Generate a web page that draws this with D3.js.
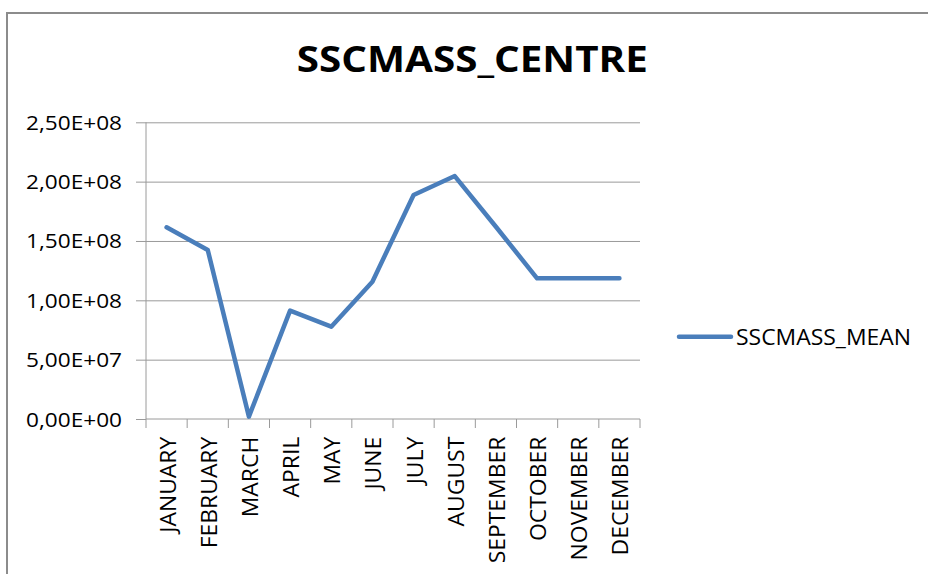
<!DOCTYPE html>
<html>
<head>
<meta charset="utf-8">
<script src="https://cdn.jsdelivr.net/npm/d3@7/dist/d3.min.js"></script>
<style>
  html, body { margin: 0; padding: 0; background: #fff; }
  svg { display: block; }
  text { font-family: "Open Sans", "DejaVu Sans", sans-serif; fill: #000; }
</style>
</head>
<body>
<svg id="chart" width="928" height="574"></svg>
<script>
// Monthly mean sediment mass at the centre station
const months = ["JANUARY", "FEBRUARY", "MARCH", "APRIL", "MAY", "JUNE",
                "JULY", "AUGUST", "SEPTEMBER", "OCTOBER", "NOVEMBER", "DECEMBER"];
const sscmassMean = [1.615e8, 1.424e8, 2.0e6, 9.13e7, 7.78e7, 1.157e8,
                     1.887e8, 2.047e8, 1.62e8, 1.185e8, 1.185e8, 1.185e8];
const yTickValues = [0, 5e7, 1e8, 1.5e8, 2e8, 2.5e8];
const yTickLabels = ["0,00E+00", "5,00E+07", "1,00E+08", "1,50E+08", "2,00E+08", "2,50E+08"];
const chartTitle = "SSCMASS_CENTRE";
const seriesName = "SSCMASS_MEAN";

const svg = d3.select("#chart");
const lineColor = "#4a7ebb";
const gridColor = "#9a9a9a";

const plot = { left: 146, right: 640, top: 122.3, bottom: 419 };

const x = d3.scaleBand().domain(months).range([plot.left, plot.right]);
const y = d3.scaleLinear().domain([0, 2.5e8]).range([plot.bottom, plot.top]);

// Outer chart frame
svg.append("path")
  .attr("d", "M7,574 V13 H928")
  .attr("fill", "none")
  .attr("stroke", "#8c8c8c")
  .attr("stroke-width", 2);

// Title
svg.append("text")
  .attr("x", 472.3)
  .attr("y", 71.7)
  .attr("text-anchor", "middle")
  .attr("font-size", 35)
  .attr("font-weight", "bold")
  .attr("textLength", 351)
  .attr("lengthAdjust", "spacingAndGlyphs")
  .text(chartTitle);

// Horizontal gridlines
const grid = svg.append("g")
  .attr("transform", `translate(${plot.left},0)`)
  .call(d3.axisLeft(y).tickValues(yTickValues.slice(1))
    .tickSize(-(plot.right - plot.left)).tickFormat(""));
grid.select(".domain").remove();
grid.selectAll("line").attr("stroke", gridColor).attr("stroke-width", 1);

// Y axis with labels
const yAxis = svg.append("g")
  .attr("transform", `translate(${plot.left},0)`)
  .call(d3.axisLeft(y).tickValues(yTickValues).tickSize(10).tickPadding(14)
    .tickFormat((d, i) => yTickLabels[i]));
yAxis.select(".domain").attr("stroke", gridColor).attr("d", `M0,${plot.top}V${plot.bottom}`);
yAxis.selectAll("line").attr("stroke", gridColor);
yAxis.selectAll("text")
  .attr("font-size", 20)
  .attr("fill", "#000")
  .attr("font-family", "\"Open Sans\", sans-serif")
  .attr("dy", "0.35em")
  .attr("textLength", 96)
  .attr("lengthAdjust", "spacingAndGlyphs");

// X axis line and category boundary ticks
const xAxis = svg.append("g");
xAxis.append("line")
  .attr("x1", plot.left).attr("x2", plot.right)
  .attr("y1", y(0)).attr("y2", y(0))
  .attr("stroke", gridColor);
const bounds = months.map(m => x(m)).concat([x.range()[1]]);
xAxis.selectAll("line.tick")
  .data(bounds)
  .join("line")
  .attr("class", "tick")
  .attr("x1", d => d).attr("x2", d => d)
  .attr("y1", y(0)).attr("y2", y(0) + 9)
  .attr("stroke", gridColor);

// Rotated month labels
const labels = xAxis.selectAll("text.month")
  .data(months)
  .join("text")
  .attr("class", "month")
  .attr("text-anchor", "end")
  .attr("font-size", 22)
  .attr("transform", d => `translate(${x(d) + x.bandwidth() / 2 + 9},436.7) rotate(-90)`)
  .text(d => d);
// Stretch the month names uniformly so JANUARY spans its measured length
const janNode = labels.filter(d => d === "JANUARY").node();
const stretch = 96 / janNode.getComputedTextLength();
labels.each(function () {
  const len = this.getComputedTextLength() * stretch;
  d3.select(this).attr("textLength", len).attr("lengthAdjust", "spacingAndGlyphs");
});

// Data line
const line = d3.line()
  .x((d, i) => x(months[i]) + x.bandwidth() / 2)
  .y(d => y(d));
svg.append("path")
  .datum(sscmassMean)
  .attr("d", line)
  .attr("fill", "none")
  .attr("stroke", lineColor)
  .attr("stroke-width", 4.5)
  .attr("stroke-linejoin", "round")
  .attr("stroke-linecap", "round");

// Legend
const legend = svg.append("g");
legend.append("line")
  .attr("x1", 679).attr("x2", 731)
  .attr("y1", 336.7).attr("y2", 336.7)
  .attr("stroke", lineColor)
  .attr("stroke-width", 4.5)
  .attr("stroke-linecap", "round");
legend.append("text")
  .attr("x", 736)
  .attr("y", 345)
  .attr("font-size", 22)
  .attr("textLength", 175)
  .attr("lengthAdjust", "spacingAndGlyphs")
  .text(seriesName);
</script>
</body>
</html>
